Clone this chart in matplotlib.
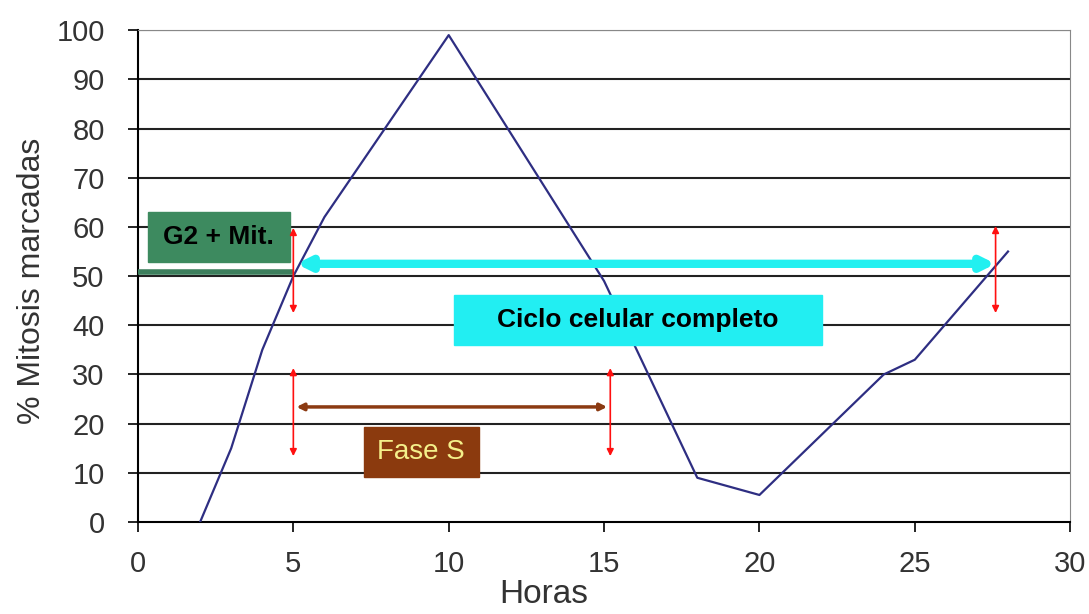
import numpy as np
import matplotlib.pyplot as plt

plt.rcParams['font.family'] = ['Liberation Sans', 'DejaVu Sans']

# Datos
horas = [2, 3, 4, 5, 6, 10, 15, 18, 20, 24, 25, 28]
mitosis = [0, 15, 35, 50, 62, 99, 49, 9, 5.5, 30, 33, 55]

x_ticks = [0, 5, 10, 15, 20, 25, 30]
y_ticks = [0, 10, 20, 30, 40, 50, 60, 70, 80, 90, 100]

fig = plt.figure(figsize=(10.89, 6.14), dpi=100)
ax = fig.add_axes([0.1267, 0.1498, 0.856, 0.801])

for y in y_ticks[1:]:
    ax.axhline(y, color='#222222', lw=1.5, zorder=1)

ax.plot(horas, mitosis, color='#2e2e82', lw=1.6, zorder=3)

ax.set_xlim(0, 30)
ax.set_ylim(0, 100)
ax.set_xticks(x_ticks)
ax.set_yticks(y_ticks)
ax.tick_params(direction='out', length=7, width=1.2, labelsize=21,
               labelcolor='#333333')
ax.tick_params(axis='y', pad=17)
ax.tick_params(axis='x', pad=13)
ax.spines['left'].set_linewidth(1.5)
ax.spines['bottom'].set_linewidth(1.5)
ax.spines['right'].set_color('#888888')
ax.spines['top'].set_color('#888888')
ax.set_xlabel('Horas', fontsize=24, color='#333333')
ax.xaxis.set_label_coords(0.4356, -0.115)
ax.set_ylabel('% Mitosis marcadas', fontsize=23, color='#333333')
ax.yaxis.set_label_coords(-0.098, 0.49)

# G2 + Mit.
ax.add_patch(plt.Rectangle((0.32, 52.8), 4.57, 10.2, color='#3d8a5f', zorder=4))
ax.text(2.6, 57.9, 'G2 + Mit.', fontsize=19, fontweight='bold', ha='center', va='center', zorder=5)
ax.plot([0, 5], [50.8, 50.8], color='#3d7f5d', lw=4, zorder=4, solid_capstyle='butt')

# ciclo celular completo
ax.annotate('', xy=(5.1, 52.5), xytext=(27.6, 52.5),
            arrowprops=dict(arrowstyle='<|-|>', color='#22f0f0', lw=6,
                            mutation_scale=18, shrinkA=0, shrinkB=0), zorder=4)
ax.add_patch(plt.Rectangle((10.17, 36), 11.83, 10.1, color='#22eef2', zorder=4))
ax.text(16.1, 41, 'Ciclo celular completo', fontsize=19, fontweight='bold', ha='center', va='center', zorder=5)

# Fase S
ax.annotate('', xy=(5.1, 23.4), xytext=(15.1, 23.4),
            arrowprops=dict(arrowstyle='<|-|>', color='#8b3a12', lw=2.5,
                            mutation_scale=10, shrinkA=0, shrinkB=0), zorder=4)
ax.add_patch(plt.Rectangle((7.27, 9.1), 3.7, 10.2, color='#8b3a0e', zorder=4))
ax.text(9.12, 14.2, 'Fase S', fontsize=20, color='#f4f08a', ha='center', va='center', zorder=5)

# flechas rojas
for xr, y0, y1 in [(5.0, 42.5, 59.8), (27.6, 42.5, 60.2), (5.0, 13.4, 31.3), (15.2, 13.4, 31.3)]:
    ax.annotate('', xy=(xr, y0), xytext=(xr, y1),
                arrowprops=dict(arrowstyle='<|-|>', color='#ff1010', lw=1.2,
                                mutation_scale=10, shrinkA=0, shrinkB=0), zorder=6)

fig.savefig('out.png', dpi=100)
